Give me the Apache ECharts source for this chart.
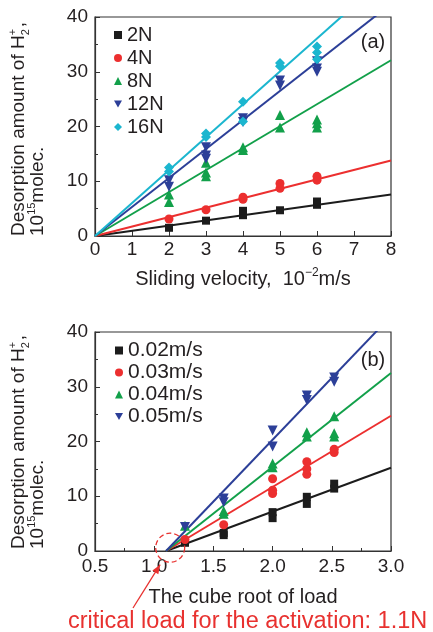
<!DOCTYPE html>
<html>
<head>
<meta charset="utf-8">
<script src="https://cdn.jsdelivr.net/npm/echarts/dist/echarts.min.js"></script>
<style>
html,body{margin:0;padding:0;background:#fff;}
#c{width:433px;height:632px;}
</style>
</head>
<body>
<div id="c"></div>
<script>
// ---------- DATA ----------
// Panel (a): x = sliding velocity (10^-2 m/s), y = desorption amount (10^15 molec.)
const loadNames = ['2N', '4N', '8N', '12N', '16N'];
const pts2N  = [[2,1.5],[3,2.8],[4,3.8],[4,4.6],[5,4.7],[6,5.7],[6,6.3]];
const pts4N  = [[2,3.1],[3,4.8],[4,6.7],[4,7.1],[5,8.7],[5,9.6],[6,10.2],[6,10.9]];
const pts8N  = [[2,6.2],[2,7.6],[3,10.9],[3,11.6],[3,13.4],[4,15.7],[4,16.2],[5,19.8],[5,22.1],[6,19.8],[6,20.6],[6,21.3]];
const pts12N = [[2,9.0],[2,10.2],[3,14.1],[3,14.7],[3,16.2],[4,20.8],[4,21.5],[5,27.5],[5,28.4],[6,30.0],[6,30.6],[6,31.9]];
const pts16N = [[2,11.8],[2,12.5],[3,18.1],[3,18.7],[4,20.9],[4,24.5],[5,31.0],[5,31.6],[6,32.3],[6,33.5],[6,34.6]];
const fitStartA = [0, 0];          // fit lines start at origin
const fitEndXA = 8;                // fit lines drawn up to x = 8
const fitEndYA = [7.6, 13.8, 32.1, 42.4, 48.1];

// Panel (b): x = cube root of load, y = desorption amount
const speedNames = ['0.02m/s', '0.03m/s', '0.04m/s', '0.05m/s'];
const ptsV02 = [[1.26,1.5],[1.587,2.9],[1.587,3.3],[2,6.0],[2,7.1],[2.289,8.6],[2.289,9.9],[2.52,11.4],[2.52,12.3]];
const ptsV03 = [[1.26,2.1],[1.587,4.8],[2,10.5],[2,11.1],[2,13.2],[2.289,14.0],[2.289,15.0],[2.289,16.3],[2.52,18.0],[2.52,18.6]];
const ptsV04 = [[1.26,4.6],[1.587,6.8],[1.587,7.3],[2,15.3],[2,16.0],[2.289,20.9],[2.289,21.7],[2.52,20.9],[2.52,21.5],[2.52,24.6]];
const ptsV05 = [[1.26,4.4],[1.587,8.9],[1.587,9.6],[2,19.1],[2,22.0],[2.289,27.6],[2.289,28.4],[2.52,30.9],[2.52,31.7]];
const fitStartB = [1.1, 0];        // critical load 1.1N
const fitEndXB = 3.0;
const fitEndYB = [15.2, 24.7, 32.5, 42.9];

const xTicksA = [0, 8, 1];
const yTicks = [0, 40, 10];
const xTicksB = [0.5, 3.0, 0.5];

// ---------- STYLE ----------
const FONT = '"Liberation Sans", Arial, sans-serif';
const TXT = '#231f20';
const colors5 = ['#1c1c1c', '#ec2f2f', '#12a04a', '#2c3f98', '#1bb6cf'];
const symbols5 = ['rect', 'circle', 'triangle', 'path://M0,0 L10,0 L5,9 Z', 'diamond'];
const sizes5 = [8, 9, 10, 10, 10];

const ptsA = [pts2N, pts4N, pts8N, pts12N, pts16N];
const ptsB = [ptsV02, ptsV03, ptsV04, ptsV05];

const series = [];
loadNames.forEach((n, i) => {
  series.push({
    name: n, type: 'line', xAxisIndex: 0, yAxisIndex: 0,
    data: [fitStartA, [fitEndXA, fitEndYA[i]]],
    showSymbol: false, clip: true, silent: true,
    lineStyle: { color: colors5[i], width: 2 }, itemStyle: { color: colors5[i] }, z: 2
  });
});
loadNames.forEach((n, i) => {
  series.push({
    name: n, type: 'scatter', xAxisIndex: 0, yAxisIndex: 0,
    data: ptsA[i], symbol: symbols5[i], symbolSize: sizes5[i],
    itemStyle: { color: colors5[i], opacity: 1 }, z: 3
  });
});
speedNames.forEach((n, i) => {
  series.push({
    name: n, type: 'line', xAxisIndex: 1, yAxisIndex: 1,
    data: [fitStartB, [fitEndXB, fitEndYB[i]]],
    showSymbol: false, clip: true, silent: true,
    lineStyle: { color: colors5[i], width: 2 }, itemStyle: { color: colors5[i] }, z: 2
  });
});
speedNames.forEach((n, i) => {
  series.push({
    name: n, type: 'scatter', xAxisIndex: 1, yAxisIndex: 1,
    data: ptsB[i], symbol: symbols5[i], symbolSize: sizes5[i],
    itemStyle: { color: colors5[i], opacity: 1 }, z: 3
  });
});

function axisCommon(extra) {
  return Object.assign({
    type: 'value',
    axisLine: { show: true, lineStyle: { color: '#333', width: 1.2 } },
    axisTick: { show: true, inside: true, length: 5, lineStyle: { color: '#333' } },
    splitLine: { show: false }
  }, extra);
}

const legendItem = (names, icons) => names.map((n, i) => ({ name: n, icon: icons[i] }));

const supRich = {
  a: { fontSize: 20, fontFamily: FONT, color: TXT, lineHeight: 25 },
  sup: { fontSize: 12, fontFamily: FONT, color: TXT, verticalAlign: 'top', lineHeight: 25 }
};

const option = {
  animation: false,
  backgroundColor: '#fff',
  grid: [
    { left: 95, top: 17, width: 296, height: 219, show: true, borderColor: '#333', borderWidth: 1.2 },
    { left: 95, top: 332, width: 296, height: 219, show: true, borderColor: '#333', borderWidth: 1.2 }
  ],
  xAxis: [
    axisCommon({
      gridIndex: 0, min: xTicksA[0], max: xTicksA[1], interval: xTicksA[2],
      axisLabel: { color: TXT, fontSize: 19, fontFamily: FONT, margin: 4 },
      name: '{a|Sliding velocity,  10}{sup|−2}{a|m/s}',
      nameLocation: 'middle', nameGap: 31,
      nameTextStyle: { rich: supRich }
    }),
    axisCommon({
      gridIndex: 1, min: xTicksB[0], max: xTicksB[1], interval: xTicksB[2],
      minorTick: { show: true, splitNumber: 2, length: 3, lineStyle: { color: '#333' } },
      axisLabel: { color: TXT, fontSize: 19, fontFamily: FONT, margin: 6, formatter: v => v.toFixed(1) },
      name: 'The cube root of load',
      nameLocation: 'middle', nameGap: 36,
      nameTextStyle: { color: TXT, fontSize: 20, fontFamily: FONT }
    })
  ],
  yAxis: [
    axisCommon({
      gridIndex: 0, min: yTicks[0], max: yTicks[1], interval: yTicks[2],
      minorTick: { show: true, splitNumber: 2, length: 3, lineStyle: { color: '#333' } },
      axisLabel: { color: TXT, fontSize: 19, fontFamily: FONT, margin: 7 }
    }),
    axisCommon({
      gridIndex: 1, min: yTicks[0], max: yTicks[1], interval: yTicks[2],
      minorTick: { show: true, splitNumber: 2, length: 3, lineStyle: { color: '#333' } },
      axisLabel: { color: TXT, fontSize: 19, fontFamily: FONT, margin: 7 }
    })
  ],
  legend: [
    {
      data: legendItem(loadNames, symbols5), orient: 'vertical', left: 109, top: 20,
      itemWidth: 8, itemHeight: 8, itemGap: 3, selectedMode: false,
      textStyle: { color: TXT, fontSize: 20, fontFamily: FONT }
    },
    {
      data: legendItem(speedNames, symbols5), orient: 'vertical', left: 110, top: 335,
      itemWidth: 8, itemHeight: 8, itemGap: 1, selectedMode: false,
      textStyle: { color: TXT, fontSize: 21, fontFamily: FONT }
    }
  ],
  series: series
};

const chart = echarts.init(document.getElementById('c'), null, { renderer: 'canvas' });
chart.setOption(option);

// ---------- ANNOTATIONS ----------
const yNameRich = {
  a: { fontSize: 19, fontFamily: FONT, fill: TXT, lineHeight: 24 },
  sup: { fontSize: 11, fontFamily: FONT, fill: TXT, verticalAlign: 'top', lineHeight: 24 },
  sub: { fontSize: 11, fontFamily: FONT, fill: TXT, verticalAlign: 'bottom', lineHeight: 24, width: 0.1 },
  supw: { fontSize: 11, fontFamily: FONT, fill: TXT, verticalAlign: 'top', lineHeight: 24, width: 8 }
};
function yName(x, y, text) {
  return {
    type: 'text', x: x, y: y, rotation: Math.PI / 2,
    style: { text: text, rich: yNameRich, align: 'left', verticalAlign: 'middle', fill: TXT, fontSize: 19, fontFamily: FONT }
  };
}
const line1 = '{a|Desorption amount of H}{sub|2}{supw|+}{a|,}';
const line2 = '{a|10}{sup|15}{a|molec.}';

const c = chart.convertToPixel({ gridIndex: 1 }, [1.135, 0.6]);
const tip = chart.convertToPixel({ gridIndex: 1 }, [1.05, -2.5]);
const tail = [133, 608];

chart.setOption({
  graphic: [
    yName(19, 236, line1),
    yName(38, 236, line2),
    yName(19, 549, line1),
    yName(38, 549, line2),
    { type: 'text', x: 373, y: 42, style: { text: '(a)', align: 'center', verticalAlign: 'middle', fill: TXT, fontSize: 20, fontFamily: FONT } },
    { type: 'text', x: 373, y: 360, style: { text: '(b)', align: 'center', verticalAlign: 'middle', fill: TXT, fontSize: 20, fontFamily: FONT } },
    { type: 'circle', shape: { cx: c[0], cy: c[1], r: 14.5 }, style: { fill: 'none', stroke: '#e8312f', lineWidth: 1.3, lineDash: [5, 3] }, z: 10 },
    { type: 'line', shape: { x1: tail[0], y1: tail[1], x2: tip[0], y2: tip[1] }, style: { stroke: '#e8312f', lineWidth: 1.3 }, z: 10 },
    { type: 'polygon', shape: { points: (function () {
        const dx = tip[0] - tail[0], dy = tip[1] - tail[1], L = Math.hypot(dx, dy);
        const ux = dx / L, uy = dy / L, px = -uy, py = ux;
        const bx = tip[0] - ux * 9, by = tip[1] - uy * 9;
        return [[tip[0], tip[1]], [bx + px * 3.5, by + py * 3.5], [bx - px * 3.5, by - py * 3.5]];
      })() }, style: { fill: '#e8312f' }, z: 10 },
    { type: 'text', x: 68, y: 622, style: { text: 'critical load for the activation: 1.1N', align: 'left', verticalAlign: 'middle', fill: '#e8312f', fontSize: 23.5, fontFamily: FONT } }
  ]
});
</script>
</body>
</html>
